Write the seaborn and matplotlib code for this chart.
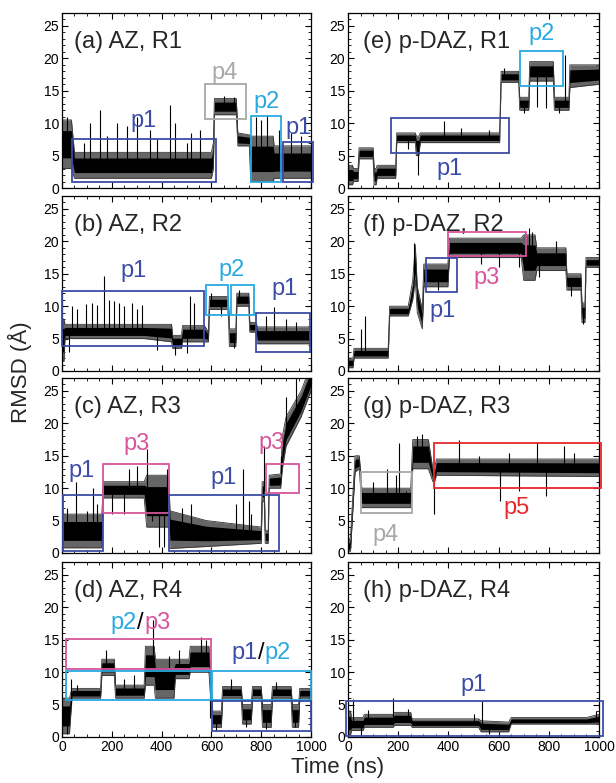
import matplotlib
matplotlib.use("Agg")
import matplotlib.pyplot as plt
import numpy as np
import seaborn as sns
from matplotlib.patches import Rectangle
from matplotlib.ticker import MultipleLocator

# colours of the states
P1 = '#3b4ca6'
P2 = '#29a9e0'
P3 = '#d6559c'
P4 = '#a8a8a8'
P5 = '#e8282c'

# ---- traces: envelope (time, low, high) + single spikes ----
a_t = [0, 38, 50, 600, 608, 612, 700, 706, 752, 758, 848, 852, 1000]
a_lo = [3, 3, 1.5, 1.5, 3, 11.3, 11.3, 6.5, 6.5, 1.0, 1.0, 1.5, 1.5]
a_hi = [10.5, 10.5, 5.5, 5.5, 7, 13.8, 13.8, 8.5, 8.2, 8, 8, 6.5, 6.5]
a_spk_t = [20, 90, 113, 153, 180, 220, 260, 300, 353, 380, 433, 453, 500, 520, 553, 650, 690, 780, 800, 825, 870, 920, 960]
a_spk_v = [11, 7, 10, 12, 8, 10, 9.5, 11, 9, 7.5, 12.8, 10, 7, 8.5, 9, 14.2, 14, 11, 10.5, 11.2, 9, 8.5, 8]

b_t = [0, 8, 12, 330, 440, 444, 480, 484, 572, 588, 592, 668, 672, 698, 702, 750, 754, 780, 784, 1000]
b_lo = [1.5, 1.5, 5, 5, 4.5, 3.5, 3.5, 4.5, 4.5, 4.5, 9.5, 9.5, 3.8, 3.8, 10, 10, 6, 6, 4.2, 4.2]
b_hi = [8, 8, 7.2, 7.2, 7.2, 5.5, 5.5, 7, 7, 6, 11.5, 11.5, 6.5, 6.5, 12, 12, 7.5, 7.5, 6.8, 6.8]
b_spk_t = [30, 40, 60, 95, 120, 140, 170, 190, 210, 230, 250, 280, 300, 320, 380, 455, 500, 516, 530, 600, 640, 690, 710, 820, 850, 900, 940]
b_spk_v = [3, 10, 9.5, 10.3, 10.5, 10.2, 14.7, 11, 10.8, 10.5, 10, 10.5, 9.5, 10.2, 3.2, 2.5, 2.8, 11.5, 10.5, 12, 8.5, 3.5, 12.5, 8.5, 9.8, 8, 7.5]

c_t = [0, 160, 166, 330, 340, 428, 434, 580, 800, 804, 812, 816, 828, 832, 878, 885, 900, 960, 1000]
c_lo = [0.8, 0.8, 8.5, 8.5, 4, 4, 0.7, 1, 1.5, 8, 8, 1.5, 1.5, 10, 10, 13, 16.5, 21, 25]
c_hi = [6, 6, 11, 11, 12, 12, 6.5, 5, 4, 11, 11, 3.5, 3.5, 12, 12.2, 18, 21, 25, 29]
c_spk_t = [20, 57, 100, 124, 140, 200, 250, 270, 300, 340, 360, 390, 410, 420, 480, 520, 700, 727, 750, 760, 810, 880, 900, 940]
c_spk_v = [7, 11, 6.5, 10, 7.5, 6, 6, 13, 13.5, 16, 5, 1, 1, 13, 7, 7.5, 7.5, 13, 8, 6, 16.5, 15, 24, 27]

d_t = [0, 30, 40, 155, 160, 210, 215, 330, 335, 370, 375, 450, 455, 510, 515, 590, 605, 640, 645, 720, 725, 760, 765, 800, 805, 840, 845, 920, 925, 950, 955, 1000]
d_lo = [0.5, 0.5, 6, 6, 9.5, 9.5, 6, 6, 8, 8, 6, 6, 9, 9, 10, 10, 1.5, 1.5, 6, 6, 2, 2, 6, 6, 1.5, 1.5, 6, 6, 1.5, 1.5, 6, 6]
d_hi = [6, 6, 7.5, 7.5, 12, 12, 8, 8, 14, 14, 12, 12, 12, 12, 14, 14, 4, 4, 7.8, 7.8, 5, 5, 7.8, 7.8, 5, 5, 7.8, 7.8, 5, 5, 7.5, 7.5]
d_spk_t = [20, 35, 60, 176, 250, 290, 366, 400, 430, 470, 560, 580, 595, 620, 680, 740, 820, 860, 935]
d_spk_v = [0.5, 9, 8, 13.5, 9, 9.5, 18, 9, 12.5, 13.5, 15.5, 15, 3, 1, 9, 1.5, 1.2, 8.5, 1.5]

e_t = [0, 18, 22, 40, 44, 100, 104, 112, 116, 190, 194, 268, 272, 282, 288, 604, 610, 680, 684, 720, 724, 818, 822, 880, 884, 1000]
e_lo = [0.5, 0.5, 1, 1, 4.5, 4.5, 0.5, 0.5, 1.5, 1.5, 7, 7, 5, 5, 7, 7, 16.3, 16.3, 12, 12, 16.5, 16.5, 12, 12, 15.5, 16]
e_hi = [3.5, 3.5, 3, 3, 6.2, 6.2, 3, 3, 3.5, 3.5, 8.5, 8.5, 8, 8, 8.5, 8.5, 18, 18, 14, 14, 19.5, 19.5, 14, 14, 19, 19]
e_spk_t = [240, 280, 383, 450, 560, 620, 700, 753, 790, 840, 865]
e_spk_v = [6, 2, 10.3, 9.2, 9, 18.5, 11.5, 12.5, 12.3, 11.5, 20.5]

f_t = [0, 20, 24, 160, 166, 240, 258, 268, 276, 296, 302, 398, 404, 690, 700, 745, 752, 868, 872, 928, 932, 944, 948, 1000]
f_lo = [0.5, 0.5, 2, 2, 8.5, 8.5, 11, 14, 9, 6.5, 13, 13, 17.5, 17.5, 14, 14, 15.5, 15.5, 12.5, 12.5, 7.5, 7.5, 16, 16]
f_hi = [2, 2, 3.5, 3.5, 10, 10, 14, 19.5, 13, 9.5, 16.5, 16.5, 20.5, 20.5, 21, 21, 19, 19, 15, 15, 10.5, 10.5, 17.5, 17.5]
f_spk_t = [50, 66, 262, 360, 530, 600, 680, 705, 720, 735, 760, 830, 890, 935]
f_spk_v = [6.5, 8.5, 19.8, 12.5, 16.5, 16, 16, 21.5, 22, 21.5, 14.5, 20, 11.5, 7.2]

g_t = [0, 10, 28, 45, 55, 250, 258, 320, 338, 345, 352, 1000]
g_lo = [0.3, 0.3, 12.5, 13, 7, 7, 13, 13, 11, 11, 12, 11.8]
g_hi = [1.5, 2.5, 15, 15, 10, 10, 17.5, 17.5, 13, 13, 14.5, 14.5]
g_spk_t = [100, 156, 190, 204, 230, 275, 295, 342, 441, 520, 605, 640, 680, 754, 790, 860, 900]
g_spk_v = [11, 13, 12, 17, 9.5, 18, 18.3, 6, 17.5, 15, 8, 15.5, 9.5, 17, 8.8, 16.5, 15.5]

h_t = [0, 10, 14, 60, 65, 180, 185, 250, 255, 520, 530, 640, 650, 950, 1000]
h_lo = [0.3, 0.3, 1, 1, 1.5, 1.5, 1.8, 1.8, 1.5, 1.5, 0.8, 0.8, 2, 2, 2]
h_hi = [4, 4, 3, 3, 3.5, 3.5, 3.8, 3.8, 2.8, 2.8, 2.5, 2.3, 3, 3, 3.5]
h_spk_t = [20, 50, 80, 180, 240, 500, 535, 560, 990]
h_spk_v = [5.8, 0.3, 4.2, 6, 4.3, 3.5, 5.5, 0.5, 4]

# ---- state boxes: (t0, t1, y0, y1, colour) ----
a_boxes = [(40, 620, 1.0, 7.6, P1), (573, 740, 10.7, 16.0, P4), (760, 880, 1.0, 11.1, P2), (889, 1007, 1.0, 7.1, P1)]
b_boxes = [(0, 571, 3.85, 12.3, P1), (577, 667, 8.6, 13.2, P2), (680, 773, 8.6, 13.2, P2), (780, 996, 3.0, 9.0, P1)]
c_boxes = [(4, 163, 0.26, 8.9, P1), (163, 429, 6.1, 13.8, P3), (429, 871, 0.26, 8.9, P1), (820, 951, 9.2, 13.8, P3)]
d_boxes = [(16, 597, 10.5, 15.1, P3), (16, 597, 5.7, 10.2, P2), (601, 1000, 5.7, 10.2, P2), (601, 1000, 1.0, 5.6, P1)]
e_boxes = [(173, 640, 5.4, 10.8, P1), (687, 856, 15.7, 21.1, P2)]
f_boxes = [(309, 433, 12.2, 17.5, P1), (397, 709, 17.8, 21.4, P3)]
g_boxes = [(53, 255, 6.2, 12.5, P4), (343, 1008, 10.05, 17.0, P5)]
h_boxes = [(-7, 1015, 0.15, 5.6, P1)]

# ---- state labels: (text, t, y, colour) ----
a_labels = [('p1', 327, 10.3, P1), ('p4', 653, 17.8, P4), ('p2', 820, 13.2, P2), ('p1', 950, 9.3, P1)]
b_labels = [('p1', 287, 15.4, P1), ('p2', 680, 15.6, P2), ('p1', 893, 12.6, P1)]
c_labels = [('p1', 80, 12.6, P1), ('p3', 300, 16.8, P3), ('p1', 647, 11.6, P1), ('p3', 840, 17.0, P3)]
d_labels = []
e_labels = [('p1', 403, 3.0, P1), ('p2', 773, 23.7, P2)]
f_labels = [('p1', 377, 9.2, P1), ('p3', 553, 14.4, P3)]
g_labels = [('p4', 150, 2.8, P4), ('p5', 671, 7.0, P5)]
h_labels = [('p1', 499, 8.0, P1)]

titles = ['(a) AZ, R1', '(b) AZ, R2', '(c) AZ, R3', '(d) AZ, R4',
          '(e) p-DAZ, R1', '(f) p-DAZ, R2', '(g) p-DAZ, R3', '(h) p-DAZ, R4']

sns.set_theme(style="ticks")
plt.rcParams['font.family'] = ['Liberation Sans', 'DejaVu Sans']
plt.rcParams['axes.edgecolor'] = 'black'
plt.rcParams['axes.linewidth'] = 0.9

fig = plt.figure(figsize=(6.16, 7.83), dpi=100)

col_left = [62 / 616, 348 / 616]
col_w = [249 / 616, 251 / 616]
row_top = [13, 196, 378, 562]
row_h = 175

traces = [(a_t, a_lo, a_hi, a_spk_t, a_spk_v), (b_t, b_lo, b_hi, b_spk_t, b_spk_v),
          (c_t, c_lo, c_hi, c_spk_t, c_spk_v), (d_t, d_lo, d_hi, d_spk_t, d_spk_v),
          (e_t, e_lo, e_hi, e_spk_t, e_spk_v), (f_t, f_lo, f_hi, f_spk_t, f_spk_v),
          (g_t, g_lo, g_hi, g_spk_t, g_spk_v), (h_t, h_lo, h_hi, h_spk_t, h_spk_v)]
boxes = [a_boxes, b_boxes, c_boxes, d_boxes, e_boxes, f_boxes, g_boxes, h_boxes]
labels = [a_labels, b_labels, c_labels, d_labels, e_labels, f_labels, g_labels, h_labels]

for i in range(8):
    col, row = i // 4, i % 4
    ax = fig.add_axes([col_left[col], (783 - row_top[row] - row_h) / 783, col_w[col], row_h / 783])
    t, lo, hi, st, sv = traces[i]
    lo_a, hi_a = np.array(lo), np.array(hi)
    core_lo = lo_a + 0.22 * (hi_a - lo_a)
    core_hi = hi_a - 0.22 * (hi_a - lo_a)

    # noisy RMSD trace: grey outer envelope, black dense core, single spikes
    ax.fill_between(t, lo, hi, color='0.4', lw=0)
    ax.fill_between(t, core_lo, core_hi, color='black', lw=0)
    sns.lineplot(x=t, y=lo, color='0.2', lw=0.6, estimator=None, sort=False, ax=ax)
    sns.lineplot(x=t, y=hi, color='0.2', lw=0.6, estimator=None, sort=False, ax=ax)
    mid = np.interp(st, t, (lo_a + hi_a) / 2)
    ax.vlines(st, mid, sv, color='black', lw=0.8)

    for x0, x1, y0, y1, c in boxes[i]:
        ax.add_patch(Rectangle((x0, y0), x1 - x0, y1 - y0, fill=False, ec=c, lw=1.3, clip_on=False, zorder=5))
    for txt, x, y, c in labels[i]:
        ax.text(x, y, txt, color=c, fontsize=17, ha='center', va='center', zorder=6)

    ax.text(48 if col == 0 else 58, 22.6, titles[i], fontsize=17, ha='left', va='center')

    ax.set_xlim(0, 1000)
    ax.set_ylim(0, 27)
    ax.xaxis.set_major_locator(MultipleLocator(200))
    ax.xaxis.set_minor_locator(MultipleLocator(50))
    ax.yaxis.set_major_locator(MultipleLocator(5))
    ax.yaxis.set_minor_locator(MultipleLocator(1))
    ax.tick_params(which='both', direction='in', top=True, right=True, colors='black', labelsize=10, pad=2)
    ax.tick_params(which='major', length=4, width=0.8)
    ax.tick_params(which='minor', length=2, width=0.6)
    ax.set_xlabel('')
    ax.set_ylabel('')
    if row != 3:
        ax.set_xticklabels([])

    # combined labels in panel (d)
    if i == 3:
        for parts, x, y in [((('p2', P2), ('p3', P3)), 315, 17.6), ((('p1', P1), ('p2', P2)), 800, 13.0)]:
            ax.text(x, y, '/', fontsize=17, ha='center', va='center', color='black', zorder=6)
            ax.annotate(parts[0][0], (x, y), xytext=(-2.6, 0), textcoords='offset points',
                        fontsize=17, ha='right', va='center', color=parts[0][1], zorder=6)
            ax.annotate(parts[1][0], (x, y), xytext=(2.6, 0), textcoords='offset points',
                        fontsize=17, ha='left', va='center', color=parts[1][1], zorder=6)

fig.text(0.033, 0.525, 'RMSD (Å)', rotation=90, fontsize=16, ha='center', va='center')
fig.text(0.548, 0.02, 'Time (ns)', fontsize=16, ha='center', va='center')

fig.savefig('out.png', dpi=100)
